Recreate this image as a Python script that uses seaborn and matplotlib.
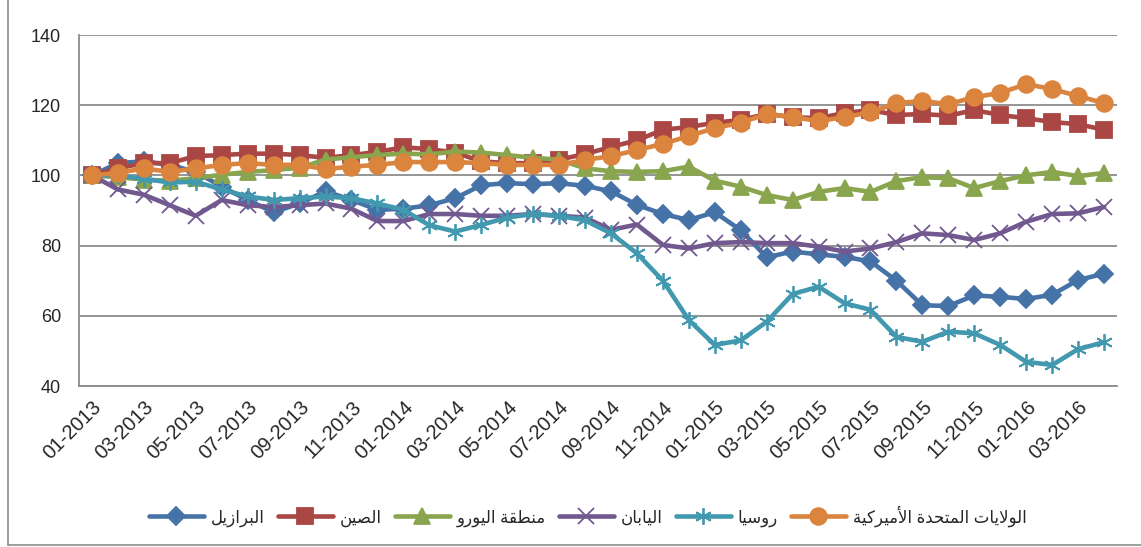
import numpy as np
import pandas as pd
import matplotlib
matplotlib.use("Agg")
import matplotlib.pyplot as plt
from matplotlib.lines import Line2D
import seaborn as sns

# ---- données (indices mensuels, base 01-2013 = 100) ----
months = [f"{m:02d}-{y}" for y in (2013, 2014, 2015, 2016) for m in range(1, 13)][:40]

brazil = [100, 103.5, 104, 103, 101, 96.8, 93, 89.5, 92, 95.5, 93, 90.2,
          90.5, 91.5, 93.5, 97.2, 97.8, 97.5, 97.8, 97, 95.5, 91.6, 89, 87.3,
          89.5, 84.4, 76.7, 78.3, 77.5, 76.8, 75.5, 70, 63, 62.8, 65.8, 65.4,
          64.8, 66, 70.2, 72]
china = [100, 102, 103.5, 103.5, 105.5, 105.8, 106.2, 106.2, 105.8, 105, 105.8, 106.7,
         108, 107.5, 106.5, 104, 103.5, 103.5, 104.5, 106.1, 108.1, 110, 113, 113.8,
         115, 115.8, 117.5, 116.6, 116.3, 117.8, 118.6, 117.2, 117.5, 117, 118.6, 117.2,
         116.3, 115.2, 114.6, 113]
euro = [100, 99.5, 98.8, 98.5, 99.2, 100.2, 101, 101.5, 102.2, 104.5, 105.2, 105.8,
        106.2, 106, 106.8, 106.5, 105.8, 105, 104.5, 102, 101.2, 101, 101.2, 102.5,
        98.5, 96.8, 94.4, 93, 95.3, 96.4, 95.3, 98.4, 99.5, 99.2, 96.4, 98.4,
        100, 101, 99.8, 100.7]
japan = [100, 96, 94.5, 91.5, 88.5, 93, 91.5, 91, 91.5, 92, 90.5, 87,
         87, 89, 89, 88.5, 88.5, 89, 88.5, 88, 84.5, 86, 80.2, 79.2,
         80.7, 81, 80.7, 80.7, 79.7, 78.3, 79.2, 81, 83.5, 83, 81.6, 83.5,
         86.8, 89, 89.2, 91]
russia = [100, 100, 99, 98, 98.2, 96, 94, 93, 93.5, 94, 93.5, 92,
          90.2, 85.8, 84, 85.9, 88, 89, 88.5, 87.2, 83.5, 77.8, 70, 58.8,
          51.7, 53, 58.3, 66.2, 68.3, 63.6, 61.7, 54, 52.6, 55.5, 55, 51.7,
          46.9, 46, 50.5, 52.5]
usa = [100, 100.7, 102, 101, 102, 103, 103.5, 103, 103, 101.8, 102.5, 103,
       103.8, 103.8, 103.8, 103.5, 103, 103, 103, 104.4, 105.5, 107.2, 109, 111.2,
       113.5, 115, 117.5, 116.6, 115.5, 116.6, 118, 120.6, 121.2, 120.3, 122.3, 123.5,
       126, 124.6, 122.6, 120.6]

names = ["البرازيل", "الصين", "منطقة اليورو", "اليابان", "روسيا",
         "الولايات المتحدة الأميركية"]
series = [brazil, china, euro, japan, russia, usa]
colors = ["#4572A7", "#AA4643", "#89A54E", "#71588F", "#4198AF", "#DB843D"]
markers = ["D", "s", "^", "x", (6, 2, 0), "o"]
msizes = [9.5, 11, 12, 11, 12, 12]

# ---- mise en forme de l'arabe (formes contextuelles + ordre visuel) ----
FORMS = {
    'ا': ('\uFE8D', '\uFE8E', None, None),
    'أ': ('\uFE83', '\uFE84', None, None),
    'ب': ('\uFE8F', '\uFE90', '\uFE91', '\uFE92'),
    'ة': ('\uFE93', '\uFE94', None, None),
    'ت': ('\uFE95', '\uFE96', '\uFE97', '\uFE98'),
    'ح': ('\uFEA1', '\uFEA2', '\uFEA3', '\uFEA4'),
    'د': ('\uFEA9', '\uFEAA', None, None),
    'ر': ('\uFEAD', '\uFEAE', None, None),
    'ز': ('\uFEAF', '\uFEB0', None, None),
    'س': ('\uFEB1', '\uFEB2', '\uFEB3', '\uFEB4'),
    'ص': ('\uFEB9', '\uFEBA', '\uFEBB', '\uFEBC'),
    'ط': ('\uFEC1', '\uFEC2', '\uFEC3', '\uFEC4'),
    'ق': ('\uFED5', '\uFED6', '\uFED7', '\uFED8'),
    'ك': ('\uFED9', '\uFEDA', '\uFEDB', '\uFEDC'),
    'ل': ('\uFEDD', '\uFEDE', '\uFEDF', '\uFEE0'),
    'م': ('\uFEE1', '\uFEE2', '\uFEE3', '\uFEE4'),
    'ن': ('\uFEE5', '\uFEE6', '\uFEE7', '\uFEE8'),
    'و': ('\uFEED', '\uFEEE', None, None),
    'ي': ('\uFEF1', '\uFEF2', '\uFEF3', '\uFEF4'),
}
LAM_ALEF = {'ا': ('\uFEFB', '\uFEFC'), 'أ': ('\uFEF7', '\uFEF8')}


def shape_ar(text):
    tokens = []
    i = 0
    while i < len(text):
        c = text[i]
        if c == 'ل' and i + 1 < len(text) and text[i + 1] in LAM_ALEF:
            tokens.append(('LA', text[i + 1]))
            i += 2
        else:
            tokens.append(('C', c))
            i += 1
    out = []
    for k, (kind, c) in enumerate(tokens):
        prev = tokens[k - 1] if k > 0 else None
        nxt = tokens[k + 1] if k + 1 < len(tokens) else None
        joins_prev = (prev is not None and prev[0] == 'C' and prev[1] in FORMS
                      and FORMS[prev[1]][2] is not None)
        if kind == 'LA':
            out.append(LAM_ALEF[c][1 if joins_prev else 0])
            continue
        if c not in FORMS:
            out.append(c)
            continue
        f = FORMS[c]
        joins_next = (f[2] is not None and nxt is not None
                      and (nxt[0] == 'LA' or nxt[1] in FORMS))
        if joins_prev and joins_next:
            out.append(f[3])
        elif joins_prev:
            out.append(f[1])
        elif joins_next:
            out.append(f[2])
        else:
            out.append(f[0])
    return ''.join(reversed(out))


# ---- style ----
sns.set_style("white")
plt.rcParams['font.family'] = ['Liberation Sans', 'DejaVu Sans']

fig, ax = plt.subplots(figsize=(11.41, 5.47), dpi=100)
fig.subplots_adjust(left=0.0692, right=0.979, bottom=0.2943, top=0.936)

x = np.arange(len(months))
for name, vals, col, mk, ms in zip(names, series, colors, markers, msizes):
    df = pd.DataFrame({'mois': x, 'valeur': vals})
    sns.lineplot(data=df, x='mois', y='valeur', ax=ax, color=col, lw=3.3,
                 marker=mk, markersize=ms, markeredgecolor=col,
                 markerfacecolor=col, markeredgewidth=1.3,
                 label=shape_ar(name))

ax.set_xlim(-0.5, len(months) - 0.5)
ax.set_ylim(40, 140)
ax.set_yticks(range(40, 141, 20))
ax.yaxis.grid(True, color='#8c8c8c', lw=1.3)
ax.xaxis.grid(False)
ax.set_xlabel('')
ax.set_ylabel('')

ax.set_xticks(x[::2])
ax.set_xticklabels(months[::2], rotation=45, ha='right', va='top',
                   rotation_mode='anchor', fontsize=14.5)
ax.set_xticks(np.arange(-0.5, len(months), 2), minor=True)
ax.tick_params(axis='x', which='major', length=0, pad=8)
ax.tick_params(axis='x', which='minor', length=5, color='#8c8c8c', width=1.2)
ax.tick_params(axis='y', length=5, color='#8c8c8c', width=1.2, labelsize=13, pad=8)

for side in ['top', 'right']:
    ax.spines[side].set_visible(False)
for side in ['left', 'bottom']:
    ax.spines[side].set_color('#8c8c8c')
    ax.spines[side].set_linewidth(1.3)

leg = ax.legend(loc='center', bbox_to_anchor=(0.49, -0.37), ncol=6,
                frameon=False, fontsize=12, handlelength=3.3,
                columnspacing=0.8, handletextpad=0.4)

# cadre du graphique
fig.add_artist(Line2D([8 / 1141, 8 / 1141], [2 / 547, 1], color='#8c8c8c', lw=1.2))
fig.add_artist(Line2D([8 / 1141, 1], [2 / 547, 2 / 547], color='#8c8c8c', lw=1.2))

plt.savefig('out.png', dpi=100)
